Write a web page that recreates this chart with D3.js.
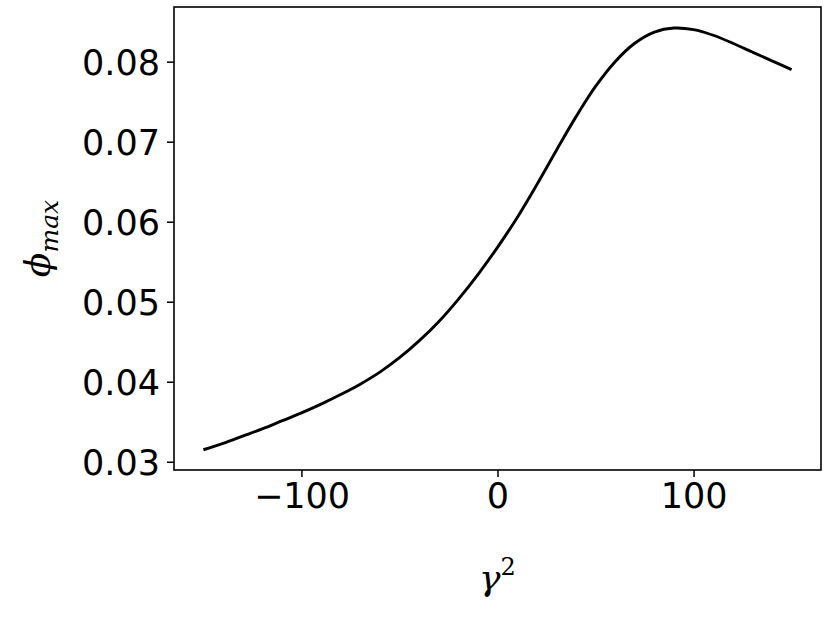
<!DOCTYPE html>
<html>
<head>
<meta charset="utf-8">
<script src="https://cdn.jsdelivr.net/npm/d3@7"></script>
<style>
  html, body { margin: 0; padding: 0; background: #fff; }
  svg { display: block; }
</style>
</head>
<body>
<svg id="chart" width="830" height="623"></svg>
<script>
// Data
const gamma2 = [-150, -140, -130, -120, -110, -100, -90, -80, -70, -60, -50, -40, -30, -20, -10,
                0, 10, 20, 30, 40, 50, 60, 70, 80, 90, 100, 110, 120, 130, 140, 150];
const phiMax = [0.0315, 0.0323, 0.0332, 0.0341, 0.0351, 0.0361, 0.0372, 0.0384, 0.0397, 0.0412, 0.0430,
                0.0451, 0.0475, 0.0503, 0.0534, 0.0568, 0.0605, 0.0646, 0.0689, 0.0731, 0.0769, 0.0800,
                0.0823, 0.0837, 0.0842, 0.0840, 0.0833, 0.0823, 0.0812, 0.0801, 0.0790];
const xTicks = [-100, 0, 100];
const yTicks = [0.03, 0.04, 0.05, 0.06, 0.07, 0.08];

const svg = d3.select("#chart");
const m = { left: 174, right: 821, top: 7, bottom: 470 };

const x = d3.scaleLinear().domain([-165, 165]).range([m.left, m.right]);
const y = d3.scaleLinear().domain([0.02897, 0.08683]).range([m.bottom, m.top]);

const fontTick = "'DejaVu Sans', sans-serif";

// Line
const line = d3.line().x((d, i) => x(gamma2[i])).y(d => y(d)).curve(d3.curveCatmullRom.alpha(0.5));
svg.append("path")
  .datum(phiMax)
  .attr("d", line)
  .attr("fill", "none")
  .attr("stroke", "#000")
  .attr("stroke-width", 2.9)
  .attr("stroke-linecap", "butt");

// Axes
const xAxis = d3.axisBottom(x).tickValues(xTicks).tickSize(7).tickPadding(6)
  .tickFormat(d => d < 0 ? "\u2212" + Math.abs(d) : String(d));
const gx = svg.append("g").attr("transform", `translate(0,${m.bottom})`).call(xAxis);
gx.select(".domain").remove();
gx.selectAll(".tick line").attr("stroke", "#000").attr("stroke-width", 1.5);
gx.selectAll(".tick text").attr("font-family", fontTick).attr("font-size", 35).attr("fill", "#000");

const yAxis = d3.axisLeft(y).tickValues(yTicks).tickSize(7).tickPadding(7)
  .tickFormat(d3.format(".2f"));
const gy = svg.append("g").attr("transform", `translate(${m.left},0)`).call(yAxis);
gy.select(".domain").remove();
gy.selectAll(".tick line").attr("stroke", "#000").attr("stroke-width", 1.5);
gy.selectAll(".tick text").attr("font-family", fontTick).attr("font-size", 35).attr("fill", "#000")
  .attr("dy", "0.36em");

// Frame
svg.append("rect")
  .attr("x", m.left).attr("y", m.top)
  .attr("width", m.right - m.left).attr("height", m.bottom - m.top)
  .attr("fill", "none").attr("stroke", "#000").attr("stroke-width", 1.6);

// Axis labels
const xl = svg.append("text")
  .attr("x", (m.left + m.right) / 2).attr("y", 590)
  .attr("text-anchor", "middle")
  .attr("font-family", "'DejaVu Serif', serif")
  .attr("font-style", "italic")
  .attr("font-size", 36);
xl.append("tspan").text("\u03B3");
xl.append("tspan").attr("dy", -15).attr("font-size", 24).attr("font-style", "normal").text("2");

const yl = svg.append("text")
  .attr("transform", `translate(50,${(m.top + m.bottom) / 2}) rotate(-90)`)
  .attr("text-anchor", "middle")
  .attr("font-family", "'DejaVu Serif', serif")
  .attr("font-style", "italic")
  .attr("font-size", 36);
yl.append("tspan").text("\u03D5");
yl.append("tspan").attr("dy", 8).attr("font-size", 25).text("max");
</script>
</body>
</html>
